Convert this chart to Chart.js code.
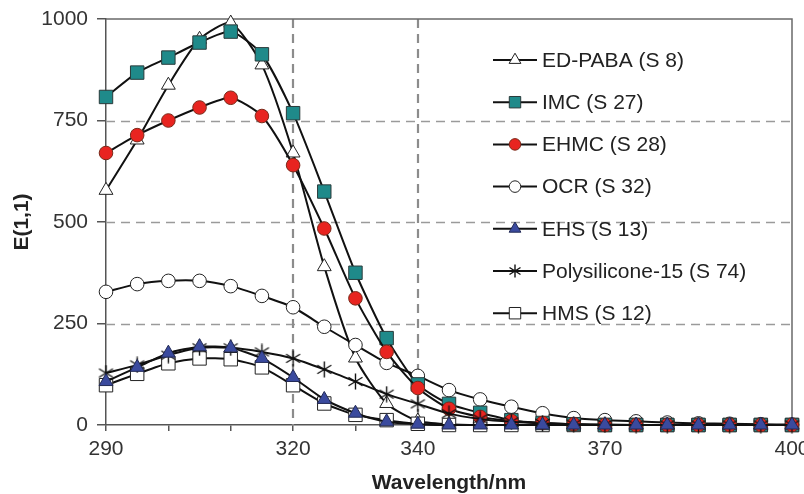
<!DOCTYPE html>
<html>
<head>
<meta charset="utf-8">
<script src="https://cdn.jsdelivr.net/npm/chart.js@4.4.0/dist/chart.umd.min.js"></script>
<style>
html,body{margin:0;padding:0;background:#fff;}
canvas{display:block;}
</style>
</head>
<body>
<canvas id="c" width="804" height="494"></canvas>
<script>
// ---- data ----
const wavelengths = [290,295,300,305,310,315,320,325,330,335,340,345,350,355,360,365,370,375,380,385,390,395,400];
const edPaba   = [578,702,837,950,990,887,670,390,165,53,10,2,0,0,0,0,0,0,0,0,0,0,0];
const imc      = [808,868,905,942,969,913,768,575,375,214,100,52,30,12,5,2,0,0,0,0,0,0,0];
const ehmc     = [670,714,750,782,806,761,640,484,312,180,91,40,20,10,5,2,0,0,0,0,0,0,0];
const ocr      = [328,347,355,355,342,318,290,242,197,153,121,86,63,45,29,17,12,9,6,4,3,2,1];
const ehs      = [107,142,177,193,190,164,117,63,29,8,2,0,0,0,0,0,0,0,0,0,0,0,0];
const polysil  = [128,148,172,190,190,180,164,137,107,76,52,28,15,8,4,2,1,0,0,0,0,0,0];
const hms      = [98,126,152,164,162,142,98,53,25,12,3,0,0,0,0,0,0,0,0,0,0,0,0];
const seriesNames = ['ED-PABA (S 8)','IMC (S 27)','EHMC (S 28)','OCR (S 32)','EHS (S 13)','Polysilicone-15 (S 74)','HMS (S 12)'];
const xTickLabels = [290,320,340,370,400];
const yTicks = [0,250,500,750,1000];
const xDashed = [320,340];
const yDashed = [250,500,750];

// asterisk marker (Excel-style)
function makeAsterisk(size){
  const c = document.createElement('canvas');
  c.width = size; c.height = size;
  const g = c.getContext('2d');
  const m = size/2, e = size-0.5;
  g.strokeStyle = '#111'; g.lineWidth = 1.4;
  g.beginPath();
  g.moveTo(m,0.5); g.lineTo(m,e);
  g.moveTo(1.5,size*0.25); g.lineTo(size-1.5,size*0.75);
  g.moveTo(1.5,size*0.75); g.lineTo(size-1.5,size*0.25);
  g.stroke();
  return c;
}
const asterisk = makeAsterisk(17);
const asteriskSmall = makeAsterisk(14);

const FONT = "'Liberation Sans', Arial, Helvetica, sans-serif";

function pts(arr){ return arr.map((v,i)=>({x:wavelengths[i], y:v})); }

const styles = [
  {data:edPaba, pointStyle:'triangle', radius:8,   bg:'#ffffff', border:'#222',    order:6},
  {data:imc,    pointStyle:'rect',     radius:9.5, bg:'#1f8a8a', border:'#2a3a3a', order:3},
  {data:ehmc,   pointStyle:'circle',   radius:6.8, bg:'#e82420', border:'#7a2a1a', order:2},
  {data:ocr,    pointStyle:'circle',   radius:6.8, bg:'#ffffff', border:'#222',    order:5},
  {data:ehs,    pointStyle:'triangle', radius:8,   bg:'#3a4a9e', border:'#222a55', order:0},
  {data:polysil,pointStyle:asterisk,   radius:8,   bg:'rgba(0,0,0,0)', border:'#111', order:1},
  {data:hms,    pointStyle:'rect',     radius:9.5, bg:'#ffffff', border:'#222',    order:4}
];

const datasets = styles.map((s,i)=>({
  label: seriesNames[i],
  data: pts(s.data),
  order: s.order,
  borderColor:'#111',
  borderWidth:2,
  tension:0.22,
  clip:false,
  pointStyle:s.pointStyle,
  pointRadius:s.radius,
  pointHoverRadius:s.radius,
  pointBackgroundColor:s.bg,
  pointBorderColor:s.border,
  pointBorderWidth:1,
  fill:false
}));

const gridPlugin = {
  id:'gridPlugin',
  beforeDatasetsDraw(chart){
    const {ctx, chartArea:a, scales:{x,y}} = chart;
    ctx.save();
    ctx.strokeStyle = '#9a9a9a';
    ctx.setLineDash([9,6]);
    ctx.lineWidth = 1.6;
    yDashed.forEach(v=>{
      const py = Math.round(y.getPixelForValue(v))+0.5;
      ctx.beginPath(); ctx.moveTo(a.left,py); ctx.lineTo(a.right,py); ctx.stroke();
    });
    ctx.lineWidth = 2.2;
    ctx.strokeStyle = '#8c8c8c';
    xDashed.forEach(v=>{
      const px = Math.round(x.getPixelForValue(v));
      ctx.beginPath(); ctx.moveTo(px,a.top); ctx.lineTo(px,a.bottom); ctx.stroke();
    });
    ctx.setLineDash([]);
    ctx.strokeStyle = '#6a6a6a';
    ctx.lineWidth = 1.5;
    const top = y.getPixelForValue(1000), right = x.getPixelForValue(400);
    ctx.beginPath(); ctx.moveTo(a.left,top); ctx.lineTo(right,top); ctx.lineTo(right,a.bottom); ctx.stroke();
    ctx.restore();
  }
};

const legendPlugin = {
  id:'customLegend',
  afterDraw(chart){
    const ctx = chart.ctx;
    const x0 = 493, x1 = 537, xm = 515, xt = 542;
    ctx.save();
    chart.data.datasets.forEach((ds,i)=>{
      const yy = 60 + i*42.2;
      ctx.strokeStyle = '#111'; ctx.lineWidth = 2; ctx.setLineDash([]);
      ctx.beginPath(); ctx.moveTo(x0,yy); ctx.lineTo(x1,yy); ctx.stroke();
      ctx.fillStyle = ds.pointBackgroundColor;
      ctx.strokeStyle = ds.pointBorderColor;
      ctx.lineWidth = 1;
      const ps = ds.pointStyle === asterisk ? asteriskSmall : ds.pointStyle;
      Chart.helpers.drawPoint(ctx,{pointStyle:ps, radius:ds.pointRadius*0.85, rotation:0, borderWidth:1}, xm, yy);
      ctx.fillStyle = '#222';
      ctx.font = '21px ' + FONT;
      ctx.textBaseline = 'middle';
      ctx.textAlign = 'left';
      ctx.fillText(ds.label, xt, yy+1);
    });
    ctx.restore();
  }
};

new Chart(document.getElementById('c'),{
  type:'line',
  data:{datasets},
  options:{
    responsive:false,
    animation:false,
    devicePixelRatio:1,
    layout:{padding:{top:19,right:12,left:0,bottom:0}},
    plugins:{legend:{display:false}, tooltip:{enabled:false}},
    scales:{
      x:{
        type:'linear', min:290, max:400,
        ticks:{stepSize:10, autoSkip:false, maxRotation:0, color:'#333', padding:6,
          font:{family:FONT,size:21},
          callback:(v)=> xTickLabels.includes(v) ? String(v) : ''},
        grid:{drawOnChartArea:false, drawTicks:true, tickLength:6, color:'#555', lineWidth:1.5},
        border:{display:true, color:'#555', width:1.5},
        title:{display:true, text:'Wavelength/nm', color:'#222', font:{family:FONT,size:21,weight:'bold',lineHeight:1}, padding:{top:0,bottom:0}},
        afterFit(s){ s.height = 69; s.paddingLeft = 0; s.paddingRight = 0; }
      },
      y:{
        min:0, max:1000,
        afterBuildTicks(s){ s.ticks = yTicks.map(v=>({value:v})); },
        ticks:{color:'#333', padding:9, font:{family:FONT,size:21}, callback:(v)=>String(v)},
        grid:{drawOnChartArea:false, drawTicks:true, tickLength:9, color:'#555', lineWidth:1.5},
        border:{display:true, color:'#555', width:1.5},
        title:{display:true, text:'E(1,1)', color:'#222', font:{family:FONT,size:21,weight:'bold',lineHeight:1}, padding:{top:12,bottom:0}},
        afterFit(s){ s.width = 106; s.paddingTop = 0; s.paddingBottom = 0; }
      }
    }
  },
  plugins:[gridPlugin, legendPlugin]
});
</script>
</body>
</html>
